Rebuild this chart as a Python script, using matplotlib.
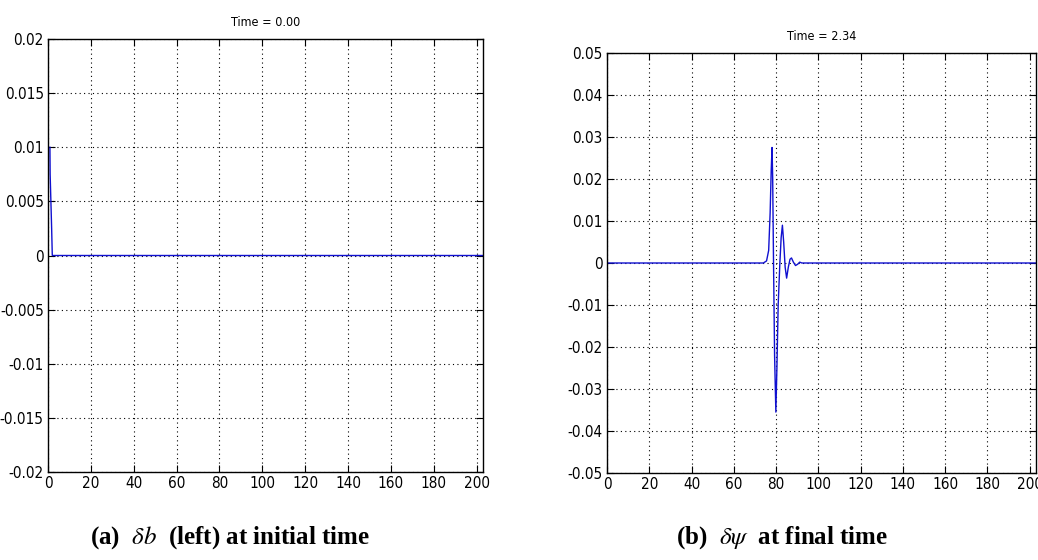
import matplotlib

matplotlib.use("Agg")
import matplotlib.pyplot as plt
import numpy as np

# left panel: delta b at initial time
x_left = [0.9, 1.0, 1.7, 2.0, 203.0]
y_left = [0.01, 0.0075, 0.0025, 0.0, 0.0]

# right panel: delta psi at final time
x_right = [0.0, 74.0, 75.5, 76.5, 77.2, 77.7, 78.1, 78.4, 78.8, 79.3, 79.9,
           80.4, 81.0, 81.8, 82.4, 83.0, 83.6, 84.3, 85.0, 85.8, 86.6, 87.3,
           88.2, 89.2, 90.2, 91.2, 92.2, 203.0]
y_right = [0.0, 0.0, 0.0005, 0.003, 0.012, 0.022, 0.0275, 0.02, 0.0, -0.022,
           -0.0355, -0.025, -0.01, 0.0, 0.006, 0.009, 0.005, -0.001, -0.0036,
           -0.001, 0.0009, 0.0012, 0.0002, -0.0006, -0.0003, 0.0002, 0.0, 0.0]

xticks = np.arange(0, 201, 20)
yticks_left = np.linspace(-0.02, 0.02, 9)
yticks_right = np.linspace(-0.05, 0.05, 11)
ylabels_left = ["-0.02", "-0.015", "-0.01", "-0.005", "0", "0.005", "0.01",
                "0.015", "0.02"]
ylabels_right = ["-0.05", "-0.04", "-0.03", "-0.02", "-0.01", "0", "0.01",
                 "0.02", "0.03", "0.04", "0.05"]

plt.rcParams["font.family"] = ["DejaVu Sans"]
plt.rcParams["font.stretch"] = "condensed"
plt.rcParams["mathtext.fontset"] = "stix"

W, H = 1038, 560
fig = plt.figure(figsize=(W / 100, H / 100), dpi=100)


def px_axes(left, top, right, bottom):
    return fig.add_axes([left / W, 1 - bottom / H, (right - left) / W, (bottom - top) / H])


def style(ax, yticks, ylim, ylabels):
    ax.set_xlim(0, 203)
    ax.set_ylim(*ylim)
    ax.set_xticks(xticks)
    ax.set_yticks(yticks)
    ax.set_yticklabels(ylabels)
    ax.grid(True, color="black", linestyle=(0, (1, 3)), linewidth=0.8)
    ax.tick_params(direction="in", top=True, right=True, length=5,
                   labelsize=11, width=0.8, pad=3)
    for s in ax.spines.values():
        s.set_linewidth(1.0)


ax1 = px_axes(48, 39, 483, 472)
ax1.plot(x_left, y_left, color="#1010d0", linewidth=1.0)
style(ax1, yticks_left, (-0.02, 0.02), ylabels_left)
ax1.set_title("Time = 0.00", fontsize=9, pad=9)

ax2 = px_axes(607, 53, 1036, 473)
ax2.plot(x_right, y_right, color="#1010d0", linewidth=1.0)
style(ax2, yticks_right, (-0.05, 0.05), ylabels_right)
ax2.set_title("Time = 2.34", fontsize=9, pad=9)

cap = dict(fontsize=18, fontweight="bold", family="Liberation Serif",
           fontstretch="normal", ha="center", va="center")
fig.text(230 / W, 1 - 538 / H, r"(a)  $\delta b$  (left) at initial time", **cap)
fig.text(782 / W, 1 - 538 / H, r"(b)  $\delta\psi$  at final time", **cap)

fig.savefig("out.png", dpi=100)
